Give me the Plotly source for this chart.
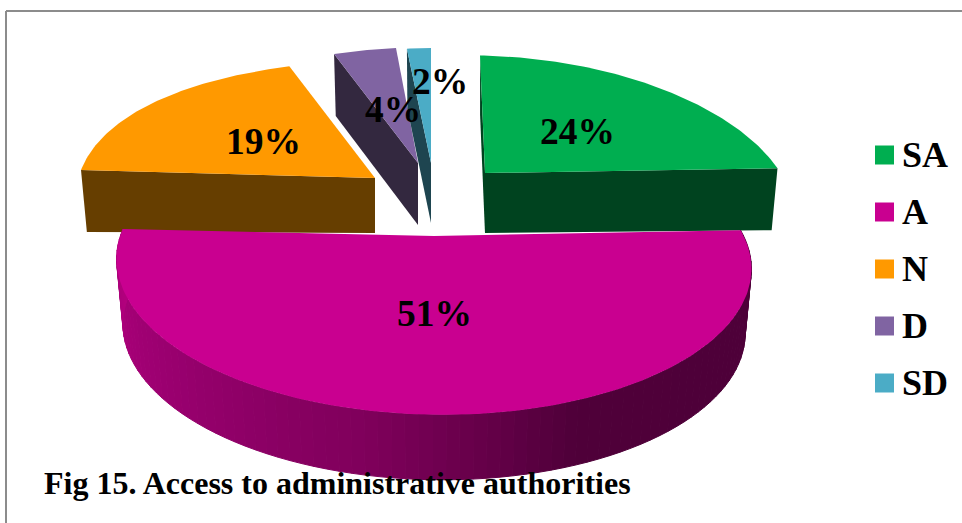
import math
import plotly.graph_objects as go

categories = ["SA", "A", "N", "D", "SD"]
values = [24, 51, 19, 4, 2]
top_colors = ["#00AE50", "#C90090", "#FF9900", "#8064A2", "#4BACC6"]
side_colors = ["#00431F", "#7F005B", "#663E00", "#33283F", "#1E4550"]
title_text = "Fig 15. Access to administrative authorities"

# Pseudo-3D geometry per slice (screen-space apex, radius, perspective)
GEOM = {
    "SA": dict(ax=485, ay=173, R=298, S=141, kx=.25, ky=.2, skew=-5, bow=0, tilt=4, h=60, hb=2, lx=577, ly=131),
    "A":  dict(ax=434, ay=236, R=311, S=143, kx=.2, ky=.2, skew=0, bow=2, tilt=5, h=65, hb=0, lx=434, ly=313),
    "N":  dict(ax=375, ay=178, R=294, S=141, kx=.15, ky=.2, skew=10, bow=8, tilt=0, h=55, hb=7, lx=263, ly=141),
    "D":  dict(ax=418, ay=163, R=330, S=139, kx=.34, ky=.2, skew=9, bow=0, tilt=0, h=62, hb=0, lx=393, ly=109),
    "SD": dict(ax=431, ay=163, R=257, S=138, kx=.34, ky=.2, skew=0, bow=0, tilt=0, h=60, hb=0, lx=440, ly=81),
}
LEGEND_X, LEGEND_TEXT_X, LEGEND_Y0, LEGEND_DY = 884.5, 902, 155, 57


def project(g, theta, r=1.0):
    X, Y = r * math.sin(theta), r * math.cos(theta)
    sx = g["ax"] + g["R"] * X / (1 + g["kx"] * Y) + g["skew"] * Y
    sy = g["ay"] - g["S"] * Y / (1 + g["ky"] * Y) - g["bow"] * X * X + g["tilt"] * X
    return sx, sy


def lower(g, p):
    extra = g["hb"] * abs(p[0] - g["ax"]) / g["R"]
    return g["ax"] + (p[0] - g["ax"]) * 0.98, p[1] + g["h"] + extra


def poly(fig, pts, color, name, line=0):
    xs = [p[0] for p in pts] + [pts[0][0]]
    ys = [p[1] for p in pts] + [pts[0][1]]
    fig.add_trace(go.Scatter(x=xs, y=ys, mode="lines", fill="toself", fillcolor=color,
                             line=dict(color=color, width=line), name=name,
                             hoverinfo="name", showlegend=False))


def hex_rgb(c):
    return tuple(int(c[i:i + 2], 16) for i in (1, 3, 5))


grad = [(270, "#B4007F"), (225, "#98006E"), (190, "#7F005B"), (158, "#4F0039"), (86, "#4D0039")]


def grad_color(deg):
    for (a1, c1), (a2, c2) in zip(grad, grad[1:]):
        if a2 <= deg <= a1:
            t = (a1 - deg) / (a1 - a2)
            r1, r2 = hex_rgb(c1), hex_rgb(c2)
            return "rgb(%d,%d,%d)" % tuple(round(u + (v - u) * t) for u, v in zip(r1, r2))
    return grad[-1][1]


total = sum(values)
bounds = {}
acc = 0
for cat, v in zip(categories, values):
    bounds[cat] = (acc / total * 2 * math.pi, (acc + v) / total * 2 * math.pi)
    acc += v

fig = go.Figure()

for i, cat in enumerate(categories):
    if cat == "A":
        continue
    g = GEOM[cat]
    a0, a1 = bounds[cat]
    apex = (g["ax"], g["ay"])
    n = max(8, int((a1 - a0) * 60))
    arc = [project(g, a0 + (a1 - a0) * j / n) for j in range(n + 1)]
    poly(fig, [arc[0], apex, lower(g, apex), lower(g, arc[0])], side_colors[i], cat + " side")
    if cat == "SA":
        poly(fig, [apex, arc[-1], lower(g, arc[-1]), lower(g, apex)], side_colors[i], cat + " side")
    poly(fig, [apex] + arc, top_colors[i], cat)

# Large slice: shaded rim, then top face
i = categories.index("A")
g = GEOM["A"]
a0, a1 = bounds["A"]
steps = 90
for j in range(steps):
    t0 = a0 + (a1 - a0) * j / steps
    t1 = a0 + (a1 - a0) * (j + 1) / steps
    p0, p1 = project(g, t0), project(g, t1)
    poly(fig, [p0, p1, lower(g, p1), lower(g, p0)], grad_color(math.degrees((t0 + t1) / 2)), "A side", line=1)
arc = [project(g, a0 + (a1 - a0) * j / 200) for j in range(201)]
poly(fig, [(g["ax"], g["ay"])] + arc, top_colors[i], "A")

# Legend
legend_y = [LEGEND_Y0 + LEGEND_DY * k for k in range(len(categories))]
fig.add_trace(go.Scatter(
    x=[LEGEND_X] * len(categories), y=legend_y, mode="markers",
    marker=dict(symbol="square", size=19, color=top_colors, line=dict(width=0)),
    text=categories, showlegend=False, hoverinfo="text"))

annotations = [
    dict(x=GEOM[c]["lx"], y=GEOM[c]["ly"], text="<b>%d%%</b>" % v, showarrow=False,
         font=dict(family="Liberation Serif", size=37.5, color="#000000"))
    for c, v in zip(categories, values)
]
annotations += [
    dict(x=LEGEND_TEXT_X, y=yy, xanchor="left", text="<b>%s</b>" % c, showarrow=False, xshift=-2,
         font=dict(family="Liberation Serif", size=36, color="#000000"))
    for c, yy in zip(categories, legend_y)
]
annotations.append(dict(x=44, y=483, xanchor="left", xshift=-2, text="<b>%s</b>" % title_text, showarrow=False,
                        font=dict(family="Liberation Serif", size=32, color="#000000")))

fig.update_layout(
    width=962, height=523, autosize=False,
    margin=dict(l=0, r=0, t=0, b=0),
    paper_bgcolor="#FFFFFF", plot_bgcolor="#FFFFFF",
    xaxis=dict(range=[0, 962], visible=False, fixedrange=True),
    yaxis=dict(range=[523, 0], visible=False, fixedrange=True),
    annotations=annotations,
    shapes=[
        dict(type="line", x0=6, x1=6, y0=11, y1=523, line=dict(color="#8C8C8C", width=2)),
        dict(type="line", x0=6, x1=962, y0=11, y1=11, line=dict(color="#8C8C8C", width=2)),
    ],
    showlegend=False,
)
fig.write_html("out.html", config=dict(displayModeBar=False),
               post_script="document.body.style.margin='0';document.documentElement.style.overflow='hidden';")
